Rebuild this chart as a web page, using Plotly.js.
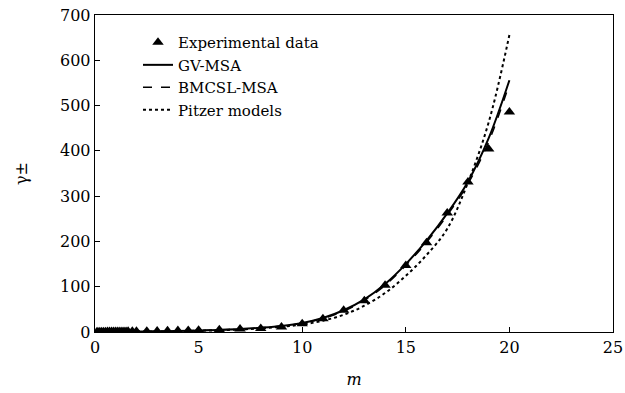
<!DOCTYPE html>
<html>
<head>
<meta charset="utf-8">
<script src="https://cdn.plot.ly/plotly-3.0.1.min.js"></script>
<style>html,body{margin:0;padding:0;background:#fff}#chart{width:625px;height:393px}</style>
</head>
<body>
<div id="chart"></div>
<script>
// Experimental data
const mExp = [0.1,0.2,0.3,0.4,0.5,0.6,0.7,0.8,0.9,1.0,1.1,1.2,1.3,1.4,1.5,1.6,1.8,2.0,2.5,3.0,3.5,4.0,4.5,5.0,6.0,7.0,8.0,9.0,10,11,12,13,14,15,16,17,18,19,20];
const gExp = [0.7,0.7,0.8,0.8,0.8,0.9,0.9,1.0,1.0,1.1,1.1,1.2,1.2,1.3,1.3,1.4,1.5,1.6,1.8,2.1,2.6,3.1,3.5,4.0,5.0,6.5,8.0,11,18,29,48,69,103,147,197,263,331,404,486];
// Model curves
const mModel = [0,1,2,3,4,5,6,7,8,9,10,11,12,13,14,15,16,17,18,19,20];
const gGV = [0.5,0.6,1.0,1.6,2.3,3.2,4.6,6.5,9.5,13.5,20,31,48,72,106,150,202,262,332,428,556];
const gBMCSL = [0.5,0.6,1.0,1.6,2.3,3.2,4.5,6.4,9.3,13.2,19.5,30,46,70,103,147,198,258,327,420,548];
const gPitzer = [0.5,0.6,0.9,1.4,2.0,2.8,4.0,5.6,8.0,11.5,16.5,25,38,58,86,124,170,228,330,463,656];
const names = ["Experimental data","GV-MSA","BMCSL-MSA","Pitzer models"];
const xTicks = [0,5,10,15,20,25];
const yTicks = [0,100,200,300,400,500,600,700];

const font = "DejaVu Serif, Liberation Serif, serif";
const traces = [
  {x:mExp, y:gExp, name:names[0], mode:"markers", type:"scatter",
   marker:{symbol:"triangle-up", size:10, color:"#000"}},
  {x:mModel, y:gGV, name:names[1], mode:"lines", type:"scatter",
   line:{color:"#000", width:2, shape:"spline", dash:"solid"}},
  {x:mModel, y:gBMCSL, name:names[2], mode:"lines", type:"scatter",
   line:{color:"#000", width:1.5, shape:"spline", dash:"dash"}},
  {x:mModel, y:gPitzer, name:names[3], mode:"lines", type:"scatter",
   line:{color:"#000", width:2, shape:"spline", dash:"dot"}}
];
const layout = {
  width:625, height:393,
  margin:{l:95, r:12, t:15, b:61},
  paper_bgcolor:"#fff", plot_bgcolor:"#fff",
  font:{family:font, size:16, color:"#000"},
  showlegend:true,
  legend:{x:0.083, y:0.965, xanchor:"left", yanchor:"top", bgcolor:"rgba(0,0,0,0)",
          font:{family:font, size:15, color:"#000"}, tracegroupgap:0},
  xaxis:{range:[0,25], tickvals:xTicks, ticktext:xTicks.map(String), ticks:"inside", ticklen:5,
         tickcolor:"#000", showline:true, linecolor:"#000", linewidth:1.3, mirror:true,
         showgrid:false, zeroline:false, tickfont:{family:font, size:16},
         title:{text:"<i>m</i>", font:{family:font, size:16}, standoff:18}},
  yaxis:{range:[0,700], tickvals:yTicks, ticktext:yTicks.map(String), ticks:"inside", ticklen:5,
         tickcolor:"#000", showline:true, linecolor:"#000", linewidth:1.3, mirror:true,
         showgrid:false, zeroline:false, tickfont:{family:font, size:16},
         title:{text:"γ±", font:{family:font, size:16}, standoff:28}}
};
Plotly.newPlot("chart", traces, layout, {displayModeBar:false, staticPlot:true});
</script>
</body>
</html>
